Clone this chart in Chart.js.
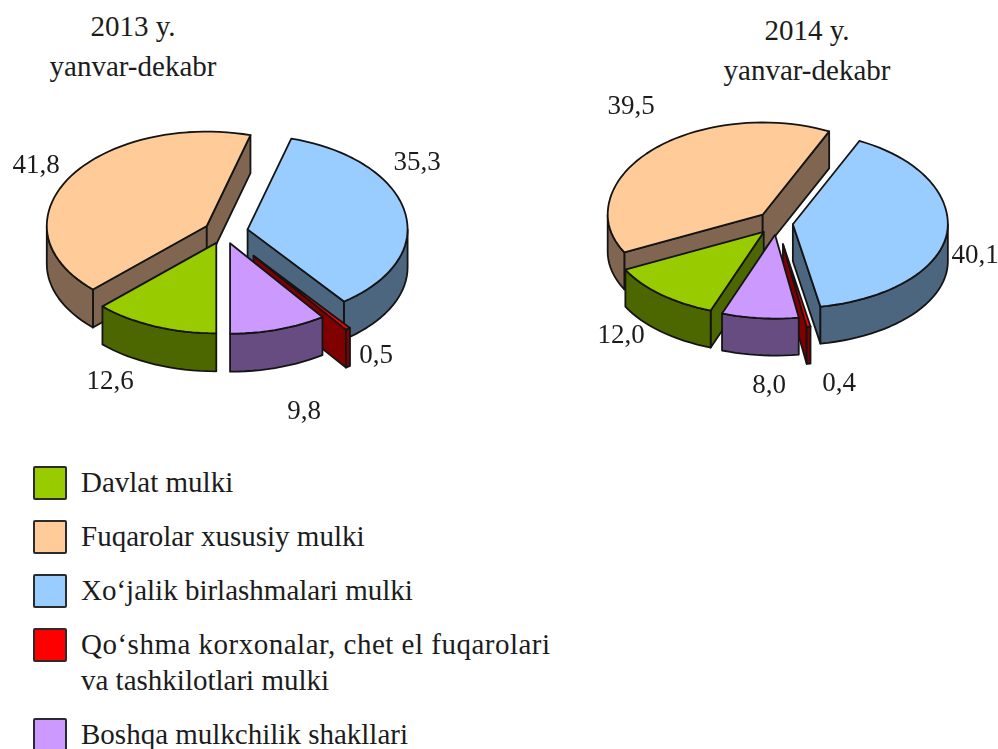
<!DOCTYPE html>
<html>
<head>
<meta charset="utf-8">
<script src="https://cdn.jsdelivr.net/npm/chart.js@4"></script>
<style>
    html, body { margin: 0; padding: 0; background: #fff; }
    body { position: relative; width: 998px; height: 749px; overflow: hidden; font-family: "Liberation Serif", serif; color: #1c1c1c; }
    canvas { position: absolute; }
    .title { position: absolute; width: 240px; text-align: center; font-size: 29px; line-height: 40px; }
    .swatch { position: absolute; left: 33px; width: 30px; height: 30px; border: 2px solid #2b2b2b; border-radius: 2px; }
    .entry { position: absolute; left: 81px; font-size: 29px; line-height: 36px; white-space: nowrap; }
    .entry .wide { letter-spacing: 0.5px; }
</style>
</head>
<body>
<div class="title" style="left:13px;top:6px">2013 y.<br>yanvar-dekabr</div>
<div class="title" style="left:687px;top:10px">2014 y.<br>yanvar-dekabr</div>
<canvas id="pie2013" style="left:0;top:0"></canvas>
<canvas id="pie2014" style="left:556px;top:0"></canvas>
<div id="legend"></div>

<script>
// Share of each ownership form, percent
const categories = ['Davlat mulki', 'Fuqarolar xususiy mulki', 'Xo‘jalik birlashmalari mulki', 'Qo‘shma korxonalar, chet el fuqarolari\nva tashkilotlari mulki', 'Boshqa mulkchilik shakllari'];
const values2013 = [12.6, 41.8, 35.3, 0.5, 9.8];
const values2014 = [12.0, 39.5, 40.1, 0.4, 8.0];

const topColors = ['#99CC00', '#FFCC99', '#99CCFF', '#FF0000', '#CC99FF'];
const wallColors = ['#4C6600', '#806650', '#4D6680', '#800000', '#664C80'];

// Label centres on each canvas, same order as the categories
const labelSpots2013 = [[110, 382], [36, 166], [417, 163], [376, 356], [304, 412]];
const labelSpots2014 = [[65, 336], [75, 107], [419, 256], [283, 384], [213, 386]];

// Flattens the library's arcs into a tilted pie with side walls
const tiltedPie = {
    id: 'tiltedPie',
    beforeDatasetsDraw(chart, args, opts) {
        const ctx = chart.ctx;
        const arcs = chart.getDatasetMeta(0).data.map((arc, i) => {
            const mid = (arc.startAngle + arc.endAngle) / 2;
            return {
                i,
                start: arc.startAngle,
                end: arc.endAngle,
                r: arc.outerRadius,
                x: arc.x + Math.cos(mid) * arc.options.offset,
                y: arc.y + Math.sin(mid) * arc.options.offset * opts.tiltBack,
                sortKey: Math.sin(mid)
            };
        });
        arcs.sort((a, b) => a.sortKey - b.sortKey);

        ctx.save();
        ctx.lineWidth = 1.8;
        ctx.strokeStyle = '#141414';
        ctx.lineJoin = 'round';
        arcs.forEach(a => drawSlice(ctx, a, opts));
        ctx.restore();

        // value labels go here, returning false skips the later dataset hooks
        const values = chart.data.datasets[0].data;
        ctx.save();
        ctx.font = '27px "Liberation Serif", serif';
        ctx.fillStyle = '#1c1c1c';
        ctx.textAlign = 'center';
        ctx.textBaseline = 'middle';
        values.forEach((v, i) => {
            ctx.fillText(v.toFixed(1).replace('.', ','), opts.labels[i][0], opts.labels[i][1]);
        });
        ctx.restore();
        return false;
    }
};

function drawSlice(ctx, a, opts) {
    const depth = opts.depth;
    // the near half of the pie is a little flatter than the far half
    const rimX = t => a.x + Math.cos(t) * a.r;
    const rimY = t => a.y + Math.sin(t) * a.r * (Math.sin(t) > 0 ? opts.tiltFront : opts.tiltBack);
    const trace = (from, to, drop) => {
        const steps = Math.max(1, Math.ceil(Math.abs(to - from) / 0.05));
        for (let s = 0; s <= steps; s++) {
            const t = from + (to - from) * s / steps;
            ctx.lineTo(rimX(t), rimY(t) + drop);
        }
    };
    const paint = fill => {
        ctx.fillStyle = fill;
        ctx.fill();
        ctx.stroke();
    };
    const wall = wallColors[a.i];

    // cut faces, only the ones turned towards the viewer
    const faces = [];
    if (Math.cos(a.start) < -0.001) faces.push(a.start);
    if (Math.cos(a.end) > 0.001) faces.push(a.end);
    faces.forEach(t => {
        ctx.beginPath();
        ctx.moveTo(a.x, a.y);
        ctx.lineTo(rimX(t), rimY(t));
        ctx.lineTo(rimX(t), rimY(t) + depth);
        ctx.lineTo(a.x, a.y + depth);
        ctx.closePath();
        paint(wall);
    });

    // outer wall, lower half of the ellipse only
    [0, 2 * Math.PI].forEach(shift => {
        const from = Math.max(a.start, shift);
        const to = Math.min(a.end, shift + Math.PI);
        if (to <= from) return;
        ctx.beginPath();
        trace(from, to, 0);
        trace(to, from, depth);
        ctx.closePath();
        paint(wall);
    });

    // top face
    ctx.beginPath();
    ctx.moveTo(a.x, a.y);
    trace(a.start, a.end, 0);
    ctx.closePath();
    paint(topColors[a.i]);
}

function makePie(id, width, height, values, rotation, radius, offsets, shape) {
    const canvas = document.getElementById(id);
    canvas.width = width;
    canvas.height = height;
    canvas.style.width = width + 'px';
    canvas.style.height = height + 'px';
    return new Chart(canvas.getContext('2d'), {
        type: 'pie',
        data: {
            labels: categories,
            datasets: [{ data: values, backgroundColor: topColors, borderWidth: 0, offset: offsets }]
        },
        options: {
            responsive: false,
            animation: false,
            rotation: rotation,
            radius: radius,
            events: [],
            plugins: {
                legend: { display: false },
                tooltip: { enabled: false },
                tiltedPie: shape
            }
        },
        plugins: [tiltedPie]
    });
}

makePie('pie2013', 448, 464, values2013, 180, 160, [20, 20, 24, 50, 20],
    { tiltBack: 0.59, tiltFront: 0.565, depth: 38, labels: labelSpots2013 });
makePie('pie2014', 442, 446, values2014, 200, 155, [20, 20, 16, 36, 20],
    { tiltBack: 0.595, tiltFront: 0.54, depth: 37, labels: labelSpots2014 });

// Legend down the bottom left
const legendTops = [466, 520, 574, 628, 718];
const legendEl = document.getElementById('legend');
categories.forEach((name, i) => {
    const swatch = document.createElement('div');
    swatch.className = 'swatch';
    swatch.style.top = legendTops[i] + 'px';
    swatch.style.background = topColors[i];
    legendEl.appendChild(swatch);

    const entry = document.createElement('div');
    entry.className = 'entry';
    entry.style.top = (legendTops[i] - 2) + 'px';
    const lines = name.split('\n');
    // the first line of the two line entry runs wider in the original
    entry.innerHTML = lines.length > 1 ? `<span class="wide">${lines[0]}</span><br>${lines[1]}` : name;
    legendEl.appendChild(entry);
});
</script>
</body>
</html>
